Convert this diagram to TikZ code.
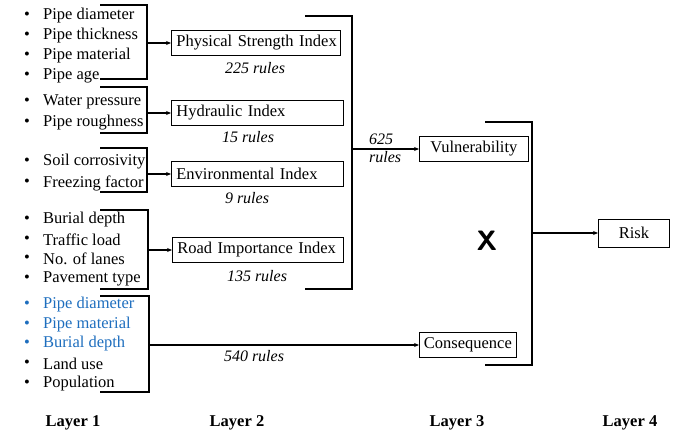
\documentclass[tikz,border=0pt]{standalone}
\usepackage{fontspec}
\setmainfont{Liberation Serif}
\usetikzlibrary{arrows.meta}
\definecolor{itemblue}{RGB}{30,110,190}
\begin{document}
\begin{tikzpicture}[x=1pt,y=-1pt,
  every node/.style={font=\fontsize{16.5}{18}\selectfont, inner sep=0pt},
  item/.style={anchor=west},
  bul/.style={anchor=center},
  box/.style={draw, line width=0.8pt, minimum height=25pt, anchor=west},
  idx/.style={box, inner xsep=5pt, align=left},
  rules/.style={font=\fontsize{16}{18}\selectfont\itshape},
  brk/.style={line width=1.4pt},
  arr/.style={line width=1.4pt, -{Stealth[length=5pt,width=4pt]}},
  layer/.style={font=\fontsize{16.5}{18}\selectfont\bfseries}]
\useasboundingbox (0,0) rectangle (688,436);

% Layer 1 inputs
\foreach \t/\yy [count=\i] in {Pipe diameter/16, Pipe thickness/36, Pipe material/56, Pipe age/76,
    Water pressure/102, Pipe roughness/123, Soil corrosivity/162, Freezing factor/183,
    Burial depth/220, Traffic load/240, No. of lanes/259, Pavement type/279,
    Land use/364, Population/384} {
  \node[bul] (b\i) at (27,\yy) {\textbullet};
  \node[item] (t\i) at (43,\yy) {\t};
}
\foreach \t/\yy [count=\i] in {Pipe diameter/305, Pipe material/325, Burial depth/344} {
  \node[bul, text=itemblue] (cb\i) at (27,\yy) {\textbullet};
  \node[item, text=itemblue] (ct\i) at (43,\yy) {\t};
}

% Layer 2 indices
\node[idx, text width=159pt] (psi) at (171,43) {\mbox{Physical Strength Index}};
\node[idx, text width=162pt] (hyd) at (171,113) {\mbox{Hydraulic Index}};
\node[idx, text width=162pt] (env) at (171,174) {\mbox{Environmental Index}};
\node[idx, text width=161pt] (road) at (172,250) {\mbox{Road Importance Index}};
\node[rules] (r1) at (255,68) {225 rules};
\node[rules] (r2) at (248,137) {15 rules};
\node[rules] (r3) at (247,198) {9 rules};
\node[rules] (r4) at (257,276) {135 rules};

% Layer 3
\node[box, minimum width=109pt] (vul) at (419,149) {Vulnerability};
\node[box, minimum width=97pt] (con) at (419,345) {Consequence};
\node[rules, align=left, anchor=west] (r5) at (369,148) {625\\rules};
\node[rules] (r6) at (254,356) {540 rules};
\node[font=\fontsize{28}{30}\selectfont\sffamily\bfseries] (times) at (487,241) {X};

% Layer 4
\node[box, minimum width=71pt, minimum height=28pt] (risk) at (598,233) {Risk};

% Brackets from inputs to indices
\draw[brk] (100,5) -| (147,79) -- (100,79);
\coordinate (j1) at (147,43);
\draw[arr] (j1) -- (psi.west);
\draw[brk] (100,87) -| (147,133) -- (100,133);
\coordinate (j2) at (147,113);
\draw[arr] (j2) -- (hyd.west);
\draw[brk] (100,148) -| (147,192) -- (100,192);
\coordinate (j3) at (147,174);
\draw[arr] (j3) -- (env.west);
\draw[brk] (100,210) -| (148,289) -- (100,289);
\coordinate (j4) at (148,250);
\draw[arr] (j4) -- (road.west);
\draw[brk] (100,296) -| (149,392) -- (100,392);
\coordinate (j5) at (149,345);
\draw[arr] (j5) -- (con.west);

% Indices to vulnerability
\draw[brk] (305,16) -| (352,289) -- (305,289);
\coordinate (j6) at (352,149);
\draw[arr] (j6) -- (vul.west);

% Vulnerability x consequence to risk
\draw[brk] (485,122) -| (532,365) -- (485,365);
\coordinate (j7) at (532,233);
\draw[arr] (j7) -- (risk.west);

% Layer captions
\node[layer] (l1) at (73,423) {Layer 1};
\node[layer] (l2) at (237,423) {Layer 2};
\node[layer] (l3) at (457,423) {Layer 3};
\node[layer] (l4) at (630,423) {Layer 4};
\end{tikzpicture}
\end{document}
